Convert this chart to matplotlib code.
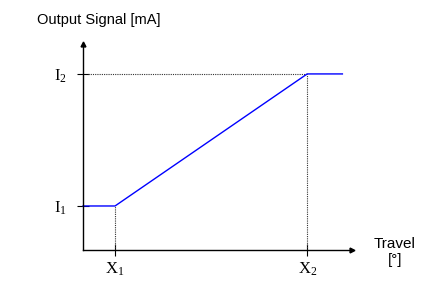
import matplotlib
matplotlib.use("Agg")
import matplotlib.pyplot as plt

plt.rcParams['mathtext.fontset'] = 'custom'
plt.rcParams['mathtext.rm'] = 'Liberation Serif'
plt.rcParams['mathtext.it'] = 'Liberation Serif'
plt.rcParams['font.family'] = ['Liberation Sans', 'DejaVu Sans']

# data
travel = [0, 1, 7, 8.1]
signal = [1, 1, 4, 4]
x_ticks = [1, 7]
x_labels = [r'$\mathrm{X}_1$', r'$\mathrm{X}_2$']
y_ticks = [1, 4]
y_labels = [r'$\mathrm{I}_1$', r'$\mathrm{I}_2$']
y_title = 'Output Signal [mA]'
x_title = 'Travel\n[°]'

W, H = 421, 282
fig = plt.figure(figsize=(W / 100, H / 100), dpi=100)
ax = fig.add_axes([83 / W, (H - 250) / H, (352 - 83) / W, (250 - 44) / H])
ax.set_xlim(0, 8.4)
ax.set_ylim(0, 4.68)

for s in ['top', 'right']:
    ax.spines[s].set_visible(False)
for s in ['left', 'bottom']:
    ax.spines[s].set_linewidth(1.0)

# arrows
ax.plot(1, 0, marker='>', color='black', markersize=3.5, transform=ax.transAxes, clip_on=False)
ax.plot(0, 1, marker='^', color='black', markersize=3.5, transform=ax.transAxes, clip_on=False)

# guide lines
ax.plot([0.15, x_ticks[1]], [y_ticks[1], y_ticks[1]], color='#333333', linestyle=(0, (1, 1)), linewidth=0.8)
ax.plot([x_ticks[1], x_ticks[1]], [0, y_ticks[1]], color='#333333', linestyle=(0, (1, 1)), linewidth=0.8)
ax.plot([x_ticks[0], x_ticks[0]], [0, y_ticks[0]], color='#333333', linestyle=(0, (1, 1)), linewidth=0.8)

# signal
ax.plot(travel, signal, color='#0000ff', linewidth=1.0, clip_on=False)

ax.set_xticks(x_ticks)
ax.set_xticklabels(x_labels, fontsize=12)
ax.set_yticks(y_ticks)
ax.set_yticklabels(y_labels, fontsize=12)
ax.tick_params(axis='both', direction='inout', length=9, width=0.8)
ax.tick_params(axis='x', pad=3)
ax.tick_params(axis='y', pad=7)

fig.text(37 / W, 1 - 20 / H, y_title, fontsize=10.5, ha='left', va='center')
fig.text(395 / W, 1 - 252 / H, x_title, fontsize=11, ha='center', va='center', linespacing=1.25)

fig.savefig('out.png', dpi=100)
